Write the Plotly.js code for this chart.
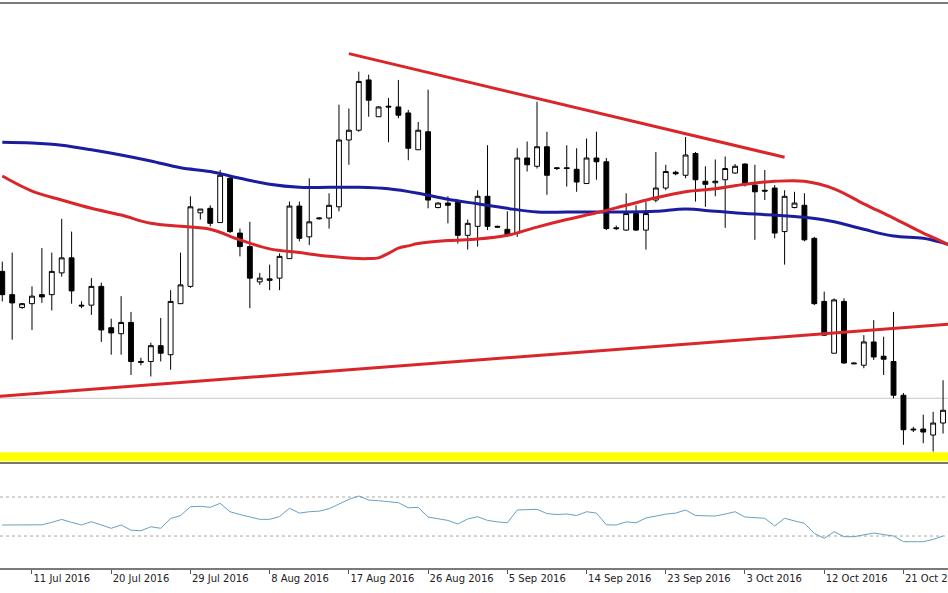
<!DOCTYPE html>
<html>
<head>
<meta charset="utf-8">
<script src="https://cdn.plot.ly/plotly-3.0.1.min.js"></script>
<style>html,body{margin:0;padding:0;background:#fff;}#chart{width:948px;height:593px;}</style>
</head>
<body>
<div id="chart"></div>
<script>
// EUR/USD daily bars (Sunday bars included), 7 Jul - 26 Oct 2016
const dates = [
"2016-07-07","2016-07-08","2016-07-10","2016-07-11","2016-07-12","2016-07-13","2016-07-14","2016-07-15",
"2016-07-17","2016-07-18","2016-07-19","2016-07-20","2016-07-21","2016-07-22","2016-07-24","2016-07-25",
"2016-07-26","2016-07-27","2016-07-28","2016-07-29","2016-07-31","2016-08-01","2016-08-02","2016-08-03",
"2016-08-04","2016-08-05","2016-08-07","2016-08-08","2016-08-09","2016-08-10","2016-08-11","2016-08-12",
"2016-08-14","2016-08-15","2016-08-16","2016-08-17","2016-08-18","2016-08-19","2016-08-21","2016-08-22",
"2016-08-23","2016-08-24","2016-08-25","2016-08-26","2016-08-28","2016-08-29","2016-08-30","2016-08-31",
"2016-09-01","2016-09-02","2016-09-04","2016-09-05","2016-09-06","2016-09-07","2016-09-08","2016-09-09",
"2016-09-11","2016-09-12","2016-09-13","2016-09-14","2016-09-15","2016-09-16","2016-09-18","2016-09-19",
"2016-09-20","2016-09-21","2016-09-22","2016-09-23","2016-09-25","2016-09-26","2016-09-27","2016-09-28",
"2016-09-29","2016-09-30","2016-10-02","2016-10-03","2016-10-04","2016-10-05","2016-10-06","2016-10-07",
"2016-10-09","2016-10-10","2016-10-11","2016-10-12","2016-10-13","2016-10-14","2016-10-16","2016-10-17",
"2016-10-18","2016-10-19","2016-10-20","2016-10-21","2016-10-23","2016-10-24","2016-10-25","2016-10-26"];

const openP = [
1.1100,1.1069,1.1052,1.1057,1.1069,1.1069,1.1098,1.1118,
1.1055,1.1055,1.1080,1.1025,1.1017,1.1032,1.0980,1.0980,
1.1001,1.0989,1.1057,1.1080,1.1178,1.1184,1.1165,1.1224,
1.1151,1.1133,1.1086,1.1088,1.1091,1.1117,1.1187,1.1146,
1.1170,1.1171,1.1186,1.1275,1.1288,1.1355,1.1306,1.1320,
1.1319,1.1311,1.1262,1.1286,1.1185,1.1191,1.1192,1.1148,
1.1160,1.1200,1.1160,1.1156,1.1151,1.1251,1.1240,1.1266,
1.1238,1.1238,1.1236,1.1217,1.1251,1.1246,1.1158,1.1155,
1.1177,1.1155,1.1195,1.1211,1.1232,1.1228,1.1257,1.1220,
1.1218,1.1222,1.1231,1.1243,1.1215,1.1208,1.1211,1.1153,
1.1185,1.1188,1.1144,1.1060,1.0991,1.1060,1.0978,1.0975,
1.1006,1.0987,1.0980,1.0935,1.0890,1.0890,1.0882,1.0898];

const highP = [
1.1113,1.1125,1.1058,1.1080,1.1131,1.1125,1.1170,1.1153,
1.1060,1.1091,1.1085,1.1037,1.1067,1.1046,1.0985,1.1005,
1.1038,1.1075,1.1125,1.1200,1.1183,1.1188,1.1235,1.1228,
1.1157,1.1166,1.1098,1.1109,1.1124,1.1193,1.1193,1.1224,
1.1172,1.1204,1.1322,1.1317,1.1366,1.1362,1.1320,1.1331,
1.1355,1.1315,1.1299,1.1342,1.1192,1.1200,1.1195,1.1169,
1.1208,1.1268,1.1161,1.1180,1.1264,1.1273,1.1326,1.1286,
1.1239,1.1268,1.1264,1.1277,1.1286,1.1251,1.1161,1.1204,
1.1188,1.1193,1.1259,1.1242,1.1234,1.1279,1.1259,1.1240,
1.1249,1.1253,1.1243,1.1244,1.1242,1.1235,1.1215,1.1208,
1.1206,1.1204,1.1146,1.1073,1.1064,1.1064,1.0979,1.1015,
1.1035,1.1013,1.1046,1.0938,1.0893,1.0909,1.0913,1.0955];

const lowP = [
1.1060,1.1009,1.1050,1.1022,1.1058,1.1048,1.1093,1.1057,
1.1051,1.1042,1.1006,1.0989,1.0989,1.0962,1.0975,1.0960,
1.0980,1.0969,1.1057,1.1078,1.1169,1.1160,1.1165,1.1151,
1.1120,1.1051,1.1082,1.1075,1.1075,1.1117,1.1140,1.1135,
1.1169,1.1157,1.1180,1.1242,1.1286,1.1306,1.1306,1.1272,
1.1304,1.1248,1.1262,1.1184,1.1184,1.1164,1.1137,1.1129,
1.1133,1.1155,1.1158,1.1146,1.1146,1.1233,1.1237,1.1202,
1.1235,1.1213,1.1206,1.1217,1.1222,1.1155,1.1155,1.1154,
1.1154,1.1129,1.1192,1.1208,1.1228,1.1224,1.1193,1.1186,
1.1200,1.1158,1.1230,1.1213,1.1142,1.1195,1.1144,1.1109,
1.1184,1.1140,1.1055,1.1014,1.0991,1.0977,1.0977,1.0971,
1.0982,1.0962,1.0931,1.0869,1.0886,1.0871,1.0860,1.0884];

const closeP = [
1.1069,1.1058,1.1057,1.1067,1.1066,1.1100,1.1118,1.1074,
1.1054,1.1080,1.1022,1.1018,1.1032,1.0980,1.0979,1.1001,
1.0991,1.1060,1.1082,1.1186,1.1183,1.1164,1.1228,1.1153,
1.1133,1.1091,1.1091,1.1090,1.1120,1.1187,1.1144,1.1166,
1.1171,1.1188,1.1275,1.1288,1.1353,1.1328,1.1319,1.1319,
1.1308,1.1264,1.1288,1.1195,1.1191,1.1188,1.1148,1.1164,
1.1200,1.1160,1.1159,1.1148,1.1251,1.1242,1.1266,1.1228,
1.1237,1.1237,1.1219,1.1251,1.1246,1.1157,1.1157,1.1177,
1.1155,1.1177,1.1211,1.1233,1.1230,1.1255,1.1222,1.1216,
1.1220,1.1237,1.1240,1.1217,1.1206,1.1207,1.1151,1.1200,
1.1191,1.1142,1.1057,1.1015,1.1062,1.0978,1.0977,1.1006,
1.0986,1.0983,1.0935,1.0889,1.0889,1.0886,1.0898,1.0915];

// RSI (one value per bar)
const rsi = [
41.3,41.3,41.3,41.3,41.5,44.0,47.0,44.0,
41.3,44.7,41.0,37.9,41.3,36.0,35.4,39.5,
37.9,48.0,51.0,60.0,60.5,59.4,63.5,54.9,
52.0,49.5,47.1,47.1,50.0,58.5,53.5,54.9,
55.5,58.0,63.0,67.6,71.0,66.9,66.2,65.5,
64.2,59.0,59.4,49.5,47.5,46.0,42.3,47.5,
49.8,46.0,44.5,43.6,56.7,57.0,57.4,53.0,
52.0,52.6,51.0,54.9,53.5,41.5,41.3,44.5,
43.6,48.5,50.5,52.4,53.5,56.7,51.0,50.5,
50.5,52.5,54.9,49.5,48.8,48.2,40.3,48.2,
45.5,43.0,32.8,27.6,34.4,29.3,29.3,31.5,
33.0,31.5,30.0,24.2,24.2,24.2,26.5,30.0];
const rsiLevels = [70, 30];

// Moving averages, read at these bar positions
const maRedIdx  = [0,3,6,9,12,15,18,21,24,27,30,33,36,37,38,39,40,41,42,45,48,51,54,57,60,63,66,69,72,75,78,81,84,87,90,93,95,96];
const maRedVal  = [1.1227,1.1207,1.1195,1.1184,1.1175,1.1164,1.1160,1.1156,1.1142,1.1130,1.1125,1.1120,1.1117,1.1117,1.1118,1.1124,1.1131,1.1134,1.1137,1.1141,1.1143,1.1148,1.1159,1.1169,1.1178,1.1188,1.1198,1.1206,1.1210,1.1216,1.1220,1.1220,1.1210,1.1190,1.1171,1.1151,1.1139,1.1132];
const maBlueIdx = [0,3,6,9,12,15,18,21,24,27,30,33,36,39,42,45,48,51,54,57,60,63,66,69,72,75,78,81,84,87,90,93,95,96];
const maBlueVal = [1.1272,1.1271,1.1268,1.1262,1.1255,1.1247,1.1238,1.1233,1.1224,1.1216,1.1212,1.1212,1.1212,1.1210,1.1204,1.1196,1.1190,1.1184,1.1179,1.1179,1.1179,1.1179,1.1180,1.1183,1.1180,1.1177,1.1175,1.1172,1.1166,1.1156,1.1147,1.1144,1.1138,1.1134];

// Trend lines (anchor bar positions and prices)
const upperTrendIdx = [35, 79];
const upperTrendVal = [1.1390, 1.1252];
const lowerTrendIdx = [-1, 97];
const lowerTrendVal = [1.0933, 1.1031];

// Horizontal levels
const grayLevel = 1.0931;
const yellowLevel = 1.0853;

const tickDates = ["2016-07-11","2016-07-20","2016-07-29","2016-08-08","2016-08-17","2016-08-26",
                   "2016-09-05","2016-09-14","2016-09-23","2016-10-03","2016-10-12","2016-10-21"];
const tickText  = ["11 Jul 2016","20 Jul 2016","29 Jul 2016","8 Aug 2016","17 Aug 2016","26 Aug 2016",
                   "5 Sep 2016","14 Sep 2016","23 Sep 2016","3 Oct 2016","12 Oct 2016","21 Oct 2016"];

const xIdx = dates.map((d, i) => i);
const tickVals = tickDates.map(d => dates.indexOf(d));

const traces = [
  {type:'scatter', mode:'lines', x:lowerTrendIdx, y:lowerTrendVal, xaxis:'x', yaxis:'y',
   line:{color:'#d9262b', width:3}, hoverinfo:'skip', showlegend:false},
  {type:'scatter', mode:'lines', x:maBlueIdx, y:maBlueVal, xaxis:'x', yaxis:'y',
   line:{color:'#1c1c9e', width:3, shape:'spline'}, hoverinfo:'skip', showlegend:false},
  {type:'scatter', mode:'lines', x:maRedIdx, y:maRedVal, xaxis:'x', yaxis:'y',
   line:{color:'#d9262b', width:3, shape:'spline'}, hoverinfo:'skip', showlegend:false},
  {type:'candlestick', x:xIdx, open:openP, high:highP, low:lowP, close:closeP, xaxis:'x', yaxis:'y',
   increasing:{line:{color:'#000', width:1}, fillcolor:'#ffffff'},
   decreasing:{line:{color:'#000', width:1}, fillcolor:'#000000'},
   whiskerwidth:0, showlegend:false, hoverinfo:'skip'},
  {type:'scatter', mode:'lines', x:upperTrendIdx, y:upperTrendVal, xaxis:'x', yaxis:'y',
   line:{color:'#d9262b', width:3}, hoverinfo:'skip', showlegend:false},
  {type:'scatter', mode:'lines', x:xIdx, y:rsi, xaxis:'x', yaxis:'y2',
   line:{color:'#6b9fc0', width:1}, hoverinfo:'skip', showlegend:false}
];

const shapes = [
  {type:'line', xref:'paper', yref:'y', x0:0, x1:1, y0:grayLevel, y1:grayLevel, line:{color:'#c8c8c8', width:1}, layer:'below'},
  {type:'line', xref:'paper', yref:'y', x0:0, x1:1, y0:yellowLevel, y1:yellowLevel, line:{color:'#ffff00', width:9}, layer:'below'}
];
rsiLevels.forEach(v => shapes.push({type:'line', xref:'paper', yref:'y2', x0:0, x1:1, y0:v, y1:v,
  line:{color:'#a8a8a8', width:1, dash:'dot'}, layer:'below'}));
// window frame lines
shapes.push({type:'line', xref:'paper', yref:'paper', x0:0, x1:1, y0:1-3/593, y1:1-3/593, line:{color:'#7a7a7a', width:2}});
shapes.push({type:'line', xref:'paper', yref:'paper', x0:0, x1:1, y0:1-463/593, y1:1-463/593, line:{color:'#77776a', width:2}});

const layout = {
  width:948, height:593,
  margin:{l:0, r:0, t:0, b:0},
  paper_bgcolor:'#ffffff', plot_bgcolor:'#ffffff',
  showlegend:false,
  xaxis:{domain:[0,1], range:[-0.23, 95.5], anchor:'y2', rangeslider:{visible:false},
    showgrid:false, zeroline:false, showline:true, linecolor:'#7a7a7a', linewidth:2,
    tickmode:'array', tickvals:tickVals, ticktext:tickText, ticks:'outside', ticklen:4, tickcolor:'#555',
    ticklabelposition:'outside right', ticklabeloverflow:'allow',
    tickfont:{family:'DejaVu Sans', size:10, color:'#222'}},
  yaxis:{domain:[1-462/593, 1-5/593], range:[1.08461, 1.14548], showgrid:false, zeroline:false,
    showticklabels:false, ticks:'', showline:false},
  yaxis2:{domain:[1-568/593, 1-464/593], range:[-2.8, 103.85], showgrid:false, zeroline:false,
    showticklabels:false, ticks:'', showline:false},
  shapes:shapes
};

Plotly.newPlot('chart', traces, layout, {staticPlot:true, displayModeBar:false});
</script>
</body>
</html>
